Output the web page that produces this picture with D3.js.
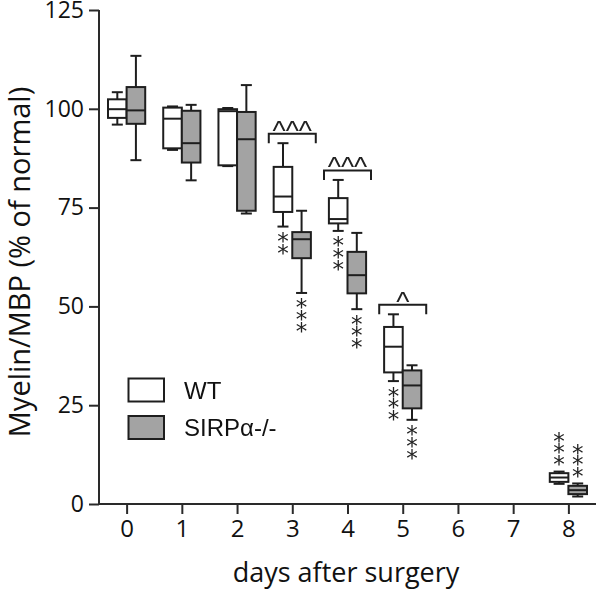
<!DOCTYPE html>
<html>
<head>
<meta charset="utf-8">
<script src="https://cdn.jsdelivr.net/npm/d3@7"></script>
<style>
  html, body { margin: 0; padding: 0; background: #fff; }
  svg { display: block; }
  .marks { opacity: 0.999; will-change: transform; }
</style>
</head>
<body>
<svg id="chart" width="597" height="591"></svg>
<script>
// ---- data ----
const days = [0, 1, 2, 3, 4, 5, 8];
const xTickLabels = ["0", "1", "2", "3", "4", "5", "6", "7", "8"];
const yTickLabels = [0, 25, 50, 75, 100, 125];
// [min, q1, median, q3, max] per day
const wtBoxes = [
  [96.0, 97.7, 99.9, 102.4, 104.2],
  [89.6, 90.0, 97.5, 100.3, 100.6],
  [85.5, 85.7, 99.4, 99.9, 100.2],
  [70.2, 73.9, 77.8, 85.3, 91.3],
  [69.1, 71.0, 72.1, 77.4, 82.0],
  [31.1, 33.3, 39.8, 44.8, 48.0],
  [5.1, 5.6, 6.7, 7.8, 8.2]
];
const sirpBoxes = [
  [87.0, 96.2, 99.6, 105.5, 113.4],
  [81.9, 86.4, 91.3, 99.5, 101.0],
  [73.5, 74.2, 92.3, 99.2, 106.0],
  [53.4, 62.2, 67.0, 68.8, 74.2],
  [49.3, 53.3, 57.9, 63.8, 68.6],
  [21.3, 24.2, 30.0, 33.8, 35.1],
  [1.9, 2.5, 3.5, 4.6, 5.2]
];
// asterisks vs day 0 (count), placement below/above whisker
const wtStars = [0, 0, 0, 2, 3, 3, 3];
const sirpStars = [0, 0, 0, 3, 3, 3, 3];
const starsAbove = [false, false, false, false, false, false, true];
// carets WT vs SIRPa-/- per day
const caretMarks = ["", "", "", "^^^", "^^^", "^", ""];
const seriesNames = ["WT", "SIRP\u03b1-/-"];
const seriesFill = ["#ffffff", "#a3a3a3"];

// ---- layout ----
const svg = d3.select("#chart");
const x = d3.scaleLinear().domain([-0.5, 8.5]).range([99, 596]);
const y = d3.scaleLinear().domain([0, 125]).range([504, 10]);
const boxW = 18.6, capW = 11;
const ink = "#1e1e1e";

// axes
const yAxis = d3.axisLeft(y).tickValues(yTickLabels).tickSize(10).tickPadding(5);
const gy = svg.append("g").attr("transform", "translate(99,0)").call(yAxis);
gy.select(".domain").attr("d", `M0,${y(125)}V${y(0)}`);
const xAxis = d3.axisBottom(x).tickValues(d3.range(0, 9)).tickFormat((d, i) => xTickLabels[i]).tickSize(10).tickPadding(6);
const gx = svg.append("g").attr("transform", `translate(0,${y(0)})`).call(xAxis);
gx.select(".domain").attr("d", `M${x(-0.5)},0H${x(8.5)}`);
[gx, gy].forEach(g => {
  g.selectAll("path,line").attr("stroke", "#2a2a2a").attr("stroke-width", 2);
  g.selectAll("text").attr("fill", "#111").style("font-family", "'Open Sans', sans-serif");
});
gy.selectAll("text").style("font-size", "23px");
gx.selectAll("text").style("font-size", "24px");

// axis titles
svg.append("text").attr("x", 346).attr("y", 582).attr("text-anchor", "middle")
  .style("font-family", "'Open Sans', sans-serif").style("font-size", "27px").attr("fill", "#111")
  .text("days after surgery");
svg.append("text").attr("transform", "translate(30,262) rotate(-90)").attr("text-anchor", "middle")
  .style("font-family", "'Open Sans', sans-serif").style("font-size", "29px").attr("fill", "#111")
  .text("Myelin/MBP (% of normal)");

// boxes
function drawBox(g, cx, b, fill) {
  const [mn, q1, md, q3, mx] = b;
  g.append("line").attr("x1", cx).attr("x2", cx).attr("y1", y(mx)).attr("y2", y(q3));
  g.append("line").attr("x1", cx).attr("x2", cx).attr("y1", y(q1)).attr("y2", y(mn));
  g.append("line").attr("x1", cx - capW / 2).attr("x2", cx + capW / 2).attr("y1", y(mx)).attr("y2", y(mx));
  g.append("line").attr("x1", cx - capW / 2).attr("x2", cx + capW / 2).attr("y1", y(mn)).attr("y2", y(mn));
  g.append("rect").attr("x", cx - boxW / 2).attr("y", y(q3)).attr("width", boxW)
    .attr("height", Math.max(0.5, y(q1) - y(q3))).attr("fill", fill);
  g.append("line").attr("x1", cx - boxW / 2).attr("x2", cx + boxW / 2).attr("y1", y(md)).attr("y2", y(md));
}
const gb = svg.append("g").attr("stroke", ink).attr("stroke-width", 2);
days.forEach((d, i) => {
  drawBox(gb, x(d) - boxW / 2, wtBoxes[i], seriesFill[0]);
  drawBox(gb, x(d) + boxW / 2, sirpBoxes[i], seriesFill[1]);
});

// ink metrics of a glyph string
const ctx = document.createElement("canvas").getContext("2d");
function inkMetrics(txt, size, family) {
  ctx.font = `${size}px ${family}`;
  const m = ctx.measureText(txt);
  return { asc: m.actualBoundingBoxAscent, desc: m.actualBoundingBoxDescent };
}

const gm = svg.append("g").attr("class", "marks");

// asterisks: one text element per stack, one tspan per star
const starGap = 11.7, starOff = 11, starSize = 23, starFont = "'DejaVu Sans'";
const sm = inkMetrics("*", starSize, starFont);
const starShift = (sm.asc - sm.desc) / 2;
days.forEach((d, i) => {
  [[wtStars[i], x(d) - boxW / 2, wtBoxes[i]], [sirpStars[i], x(d) + boxW / 2, sirpBoxes[i]]].forEach(([n, cx, b]) => {
    if (!n) return;
    const t = gm.append("text").attr("text-anchor", "middle").attr("fill", "#222")
      .style("font-family", starFont).style("font-size", starSize + "px");
    for (let k = 0; k < n; k++) {
      const cy = starsAbove[i] ? y(b[4]) - starOff - (n - 1 - k) * starGap : y(b[0]) + starOff + k * starGap;
      t.append("tspan").attr("x", cx).attr("y", cy + starShift).text("*");
    }
  });
});

// brackets with carets
const gbr = svg.append("g").attr("stroke", ink).attr("stroke-width", 2).attr("fill", "none");
const caretSize = 28, caretFont = "'Liberation Sans'";
days.forEach((d, i) => {
  if (!caretMarks[i]) return;
  const mx = Math.max(wtBoxes[i][4], sirpBoxes[i][4]);
  const by = y(mx) - 9.5;
  const half = 23.5;
  gbr.append("path").attr("d", `M${x(d) - half},${by + 9.5}V${by}H${x(d) + half}V${by + 9.5}`);
  const cm = inkMetrics(caretMarks[i], caretSize, caretFont);
  gm.append("text").attr("x", x(d)).attr("y", by - 8 + (cm.asc - cm.desc) / 2).attr("text-anchor", "middle")
    .attr("fill", "#222").style("font-family", caretFont).style("font-size", caretSize + "px")
    .text(caretMarks[i]);
});

// legend
const legY = [378.5, 416];
seriesNames.forEach((name, i) => {
  svg.append("rect").attr("x", 128.5).attr("y", legY[i]).attr("width", 35.5).attr("height", 23)
    .attr("fill", seriesFill[i]).attr("stroke", ink).attr("stroke-width", 2);
  svg.append("text").attr("x", 184).attr("y", legY[i] + 20).attr("fill", "#111")
    .style("font-family", "'Liberation Sans', Arial, sans-serif").style("font-size", "24px").text(name);
});
</script>
</body>
</html>
